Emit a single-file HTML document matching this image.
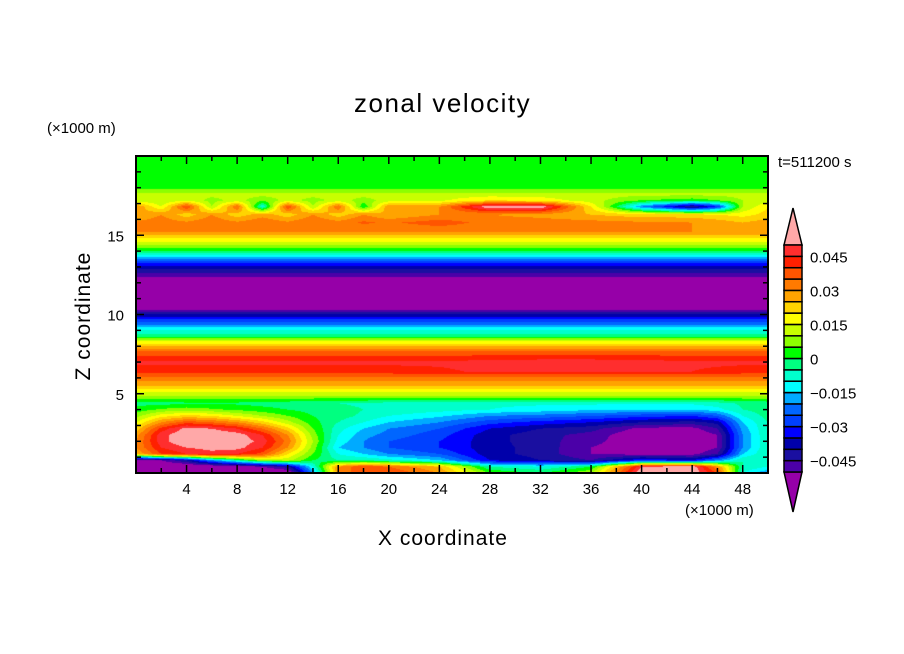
<!DOCTYPE html>
<html><head><meta charset="utf-8">
<style>
html,body{margin:0;padding:0;background:#fff;}
#root{position:relative;width:904px;height:654px;overflow:hidden;font-family:"Liberation Sans",sans-serif;color:#000;}
.t{position:absolute;white-space:nowrap;}
</style></head>
<body>
<div id="root">
<div class="t" style="left:354px;top:88px;font-size:26px;letter-spacing:1.5px;">zonal velocity</div>
<div class="t" style="left:47px;top:120px;font-size:15px;">(×1000 m)</div>
<div class="t" style="left:778px;top:154px;font-size:15px;">t=511200 s</div>
<div class="t" style="left:685px;top:502px;font-size:15px;">(×1000 m)</div>
<div class="t" style="left:378px;top:527px;font-size:21px;letter-spacing:1px;">X coordinate</div>
<div class="t" style="left:84px;top:316px;font-size:21px;letter-spacing:1px;transform:translate(-50%,-50%) rotate(-90deg);">Z coordinate</div>
<canvas id="field" width="632" height="317" style="position:absolute;left:136px;top:156px;"></canvas>
<svg id="ov" width="904" height="654" style="position:absolute;left:0;top:0;"></svg>
</div>
<script>
// ---- data (u in 0.001 m/s) ----
const xCols = [0,2,4,6,8,10,12,14,16,18,20,24,28,32,36,40,44,46,48,50];
const zLevels = [0,0.4,0.8,1.2,1.6,2.0,2.4,2.8,3.2,3.6,4.0,4.4,4.8,5.2,5.6,6.0,6.4,7.0,7.6,8.0,8.3,8.6,9.0,9.3,9.7,10.0,10.3,11,12,12.3,12.6,13.0,13.4,13.7,14.0,14.4,14.8,15.2,15.8,16.3,16.8,17.2,17.6,17.9,18.5,20];
const uRows = [
 [-60,-60,-60,-60,-60,-60,-58,-20,30,40,40,30,5,0,10,55,55,40,-10,-20],
 [-58,-58,-58,-57,-55,-50,-42,-10,30,40,35,25,-5,-10,0,50,55,30,-5,-10],
 [-55,-50,-40,-20,-5,10,12,0,-5,-5,-8,-15,-35,-40,-45,-30,-35,-20,-5,-5],
 [25,40,45,48,45,38,20,5,-10,-15,-20,-25,-38,-42,-50,-52,-52,-45,-15,-5],
 [30,45,50,52,52,45,30,8,-15,-20,-25,-30,-38,-42,-50,-55,-55,-50,-20,-5],
 [30,48,55,55,54,48,33,10,-12,-20,-25,-30,-38,-43,-48,-55,-55,-50,-20,-5],
 [28,48,55,55,53,45,30,8,-10,-18,-22,-28,-38,-43,-47,-55,-55,-50,-20,-5],
 [22,42,52,50,45,35,22,5,-8,-15,-20,-25,-35,-40,-43,-52,-52,-45,-18,-5],
 [15,30,38,35,30,22,12,2,-5,-10,-15,-20,-28,-32,-35,-40,-42,-38,-15,-5],
 [8,18,22,20,15,10,5,0,-3,-6,-10,-14,-20,-22,-25,-28,-30,-25,-10,-3],
 [2,6,8,6,4,2,0,-2,-3,-5,-6,-8,-10,-12,-14,-15,-15,-12,-5,-2],
 [-2,-2,-1,-1,-1,-2,-3,-4,-5,-6,-7,-8,-9,-9,-9,-9,-9,-7,-4,-3],
 8,17,27,33,
 [43,43,43,43,43,43,43,43,43,43,43,44,46,46,46,46,45,44,43,43],
 [46,46,46,46,46,46,46,46,46,46,46,46,47,48,48,47,46,46,46,46],
 37,25,15,0,-10,-18,-30,-40,-51,-55,-55,-52,-45,-37,-25,-12,0,10,20,30,
 [31,33,31,34,31,34,31,35,32,36,34,38,33,33,32,31,30,28,25,28],
 [25,30,22,30,22,28,22,30,22,30,25,30,30,28,25,22,22,20,18,22],
 [30,15,40,10,35,-10,40,10,35,0,30,30,55,55,20,-20,-45,-30,10,20],
 [12,10,14,8,12,6,12,8,12,8,12,14,20,18,12,5,2,5,10,12],
 12,5,3,3
];
const levelColors = ["#ff2e2e","#ff2000","#ff5500","#ff7a00","#ffa300","#ffd400","#ffff00","#c8ff00","#8cff00","#00ff00","#00ff80","#00ffcc","#00ffff","#00aaff","#0066ff","#0040ff","#0000ff","#0000aa","#1a0fa0","#4b00a8"].reverse();
const overColor = "#ffa8a8", underColor = "#9600a8";
const cbLabels = ["0.045","0.03","0.015","0","\u22120.015","\u22120.03","\u22120.045"];
const cbLabelVals = [0.045,0.03,0.015,0,-0.015,-0.03,-0.045];
const xTickLabels = [4,8,12,16,20,24,28,32,36,40,44,48];
const yTickLabels = [5,10,15];

// ---- scales ----
const X0=136,X1=768,Y0=473,Y1=156;
const sx = v => X0 + (v/50)*(X1-X0);
const sz = v => Y0 - (v/20)*(Y0-Y1);
const cbTop=245, cbBot=472;
const sc = v => cbBot - ((v+0.05)/0.1)*(cbBot-cbTop);

function rowVal(r,j){const R=uRows[r];return typeof R==="number"?R:R[j];}
function rgb(h){return [parseInt(h.substr(1,2),16),parseInt(h.substr(3,2),16),parseInt(h.substr(5,2),16)];}
const pal = levelColors.map(rgb), overRGB=rgb(overColor), underRGB=rgb(underColor);

(function draw(){
  const c=document.getElementById('field'),ctx=c.getContext('2d');
  const W=c.width,H=c.height,img=ctx.createImageData(W,H);
  for(let py=0;py<H;py++){
    const z=(H-0.5-py)/H*20;
    let r=0;while(r<zLevels.length-2&&zLevels[r+1]<z)r++;
    const tz=Math.max(0,Math.min(1,(z-zLevels[r])/(zLevels[r+1]-zLevels[r])));
    for(let px=0;px<W;px++){
      const x=(px+0.5)/W*50;
      let j=0;while(j<xCols.length-2&&xCols[j+1]<x)j++;
      const tx=(x-xCols[j])/(xCols[j+1]-xCols[j]);
      const a=rowVal(r,j)*(1-tx)+rowVal(r,j+1)*tx;
      const b=rowVal(r+1,j)*(1-tx)+rowVal(r+1,j+1)*tx;
      const v=(a*(1-tz)+b*tz)/1000;
      const k=Math.floor((v+0.05)/0.005);
      const col=k<0?underRGB:(k>19?overRGB:pal[k]);
      const o=(py*W+px)*4;img.data[o]=col[0];img.data[o+1]=col[1];img.data[o+2]=col[2];img.data[o+3]=255;
    }
  }
  ctx.putImageData(img,0,0);
})();

(function axes(){
  const svg=document.getElementById('ov'),NS="http://www.w3.org/2000/svg";
  function mk(tag,attrs,name){const e=document.createElementNS(NS,tag);for(const k in attrs)e.setAttribute(k,attrs[k]);
    
    
    svg.appendChild(e);return e;}
  mk('rect',{x:X0,y:Y1,width:X1-X0,height:Y0-Y1,fill:'none',stroke:'#000','stroke-width':2},'plot-frame');
  for(let v=2;v<50;v+=2){const x=sx(v),L=(v%4===0)?8:5;
    mk('line',{x1:x,y1:Y0,x2:x,y2:Y0-L,stroke:'#000','stroke-width':1.5},'x-tick');
    mk('line',{x1:x,y1:Y1,x2:x,y2:Y1+L,stroke:'#000','stroke-width':1.5},'x-tick-top');}
  for(let v=1;v<20;v++){const y=sz(v),L=(v%5===0)?8:5;
    mk('line',{x1:X0,y1:y,x2:X0+L,y2:y,stroke:'#000','stroke-width':1.5},'y-tick');
    mk('line',{x1:X1,y1:y,x2:X1-L,y2:y,stroke:'#000','stroke-width':1.5},'y-tick-right');}
  xTickLabels.forEach(v=>{const t=mk('text',{x:sx(v),y:494,'text-anchor':'middle','font-size':15,'font-family':'Liberation Sans, sans-serif'},'x-tick-label');t.textContent=v;});
  yTickLabels.forEach(v=>{const t=mk('text',{x:124,y:sz(v)+6,'text-anchor':'end','font-size':15,'font-family':'Liberation Sans, sans-serif'},'y-tick-label');t.textContent=v;});
  const cx0=784,cx1=802,cm=793;
  mk('polygon',{points:`${cx0},${cbTop} ${cm},208 ${cx1},${cbTop}`,fill:overColor,stroke:'#000','stroke-width':1.5},'colorbar-over-triangle');
  mk('polygon',{points:`${cx0},${cbBot} ${cm},512 ${cx1},${cbBot}`,fill:underColor,stroke:'#000','stroke-width':1.5},'colorbar-under-triangle');
  levelColors.forEach((col,i)=>{const lo=-0.05+i*0.005;
    mk('rect',{x:cx0,y:sc(lo+0.005),width:cx1-cx0,height:sc(lo)-sc(lo+0.005),fill:col,stroke:'#000','stroke-width':1.5},'colorbar-swatch');});
  cbLabels.forEach((s,i)=>{const t=mk('text',{x:810,y:sc(cbLabelVals[i])+6,'font-size':15,'font-family':'Liberation Sans, sans-serif'},'colorbar-label');t.textContent=s;});
})();
</script>
</body></html>
